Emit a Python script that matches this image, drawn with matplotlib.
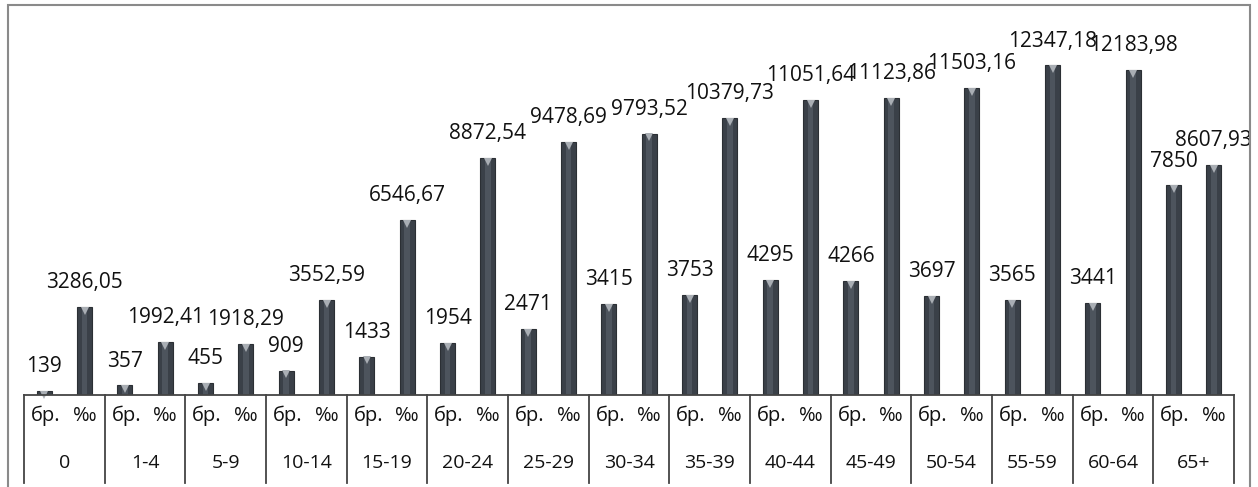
import matplotlib
matplotlib.use('Agg')
from matplotlib import pyplot as plt
from matplotlib.patches import Rectangle

# age groups, absolute counts (бр.) and rates (‰)
ages = ['0', '1-4', '5-9', '10-14', '15-19', '20-24', '25-29', '30-34',
        '35-39', '40-44', '45-49', '50-54', '55-59', '60-64', '65+']
counts = [139, 357, 455, 909, 1433, 1954, 2471, 3415, 3753, 4295, 4266,
          3697, 3565, 3441, 7850]
rates = [3286.05, 1992.41, 1918.29, 3552.59, 6546.67, 8872.54, 9478.69,
         9793.52, 10379.73, 11051.64, 11123.86, 11503.16, 12347.18,
         12183.98, 8607.93]

plt.rcParams['font.family'] = ['Open Sans', 'DejaVu Sans']

fig = plt.figure(figsize=(12.58, 4.87), dpi=100)
fig.add_artist(Rectangle((8 / 1258, -0.05), 1242 / 1258, 1.04, transform=fig.transFigure,
                         fill=False, edgecolor='#8a8a8a', linewidth=1.5))

ax = fig.add_axes([24 / 1258, 92 / 487, 1210 / 1258, 375 / 487])
ax.set_xlim(-0.5, len(ages) - 0.5)
ax.set_ylim(0, 14050)
ax.axis('off')

bar_w = 0.19
off = 0.25
face = '#3a4048'
txt = '#111111'


def fmt(v):
    if isinstance(v, int):
        return str(v)
    return f'{v:.2f}'.replace('.', ',')


for i in range(len(ages)):
    for x, v in ((i - off, counts[i]), (i + off, rates[i])):
        ax.bar(x, v, width=bar_w, color=face, edgecolor='#2b2f34', linewidth=0.8)
        # narrow lighter strip down the middle for a rounded look
        ax.bar(x, v, width=bar_w * 0.35, color='#4d545d', linewidth=0)
        # light bevel on top of each column
        ax.plot(x, v - 140, marker='v', markersize=6, color='#a9aeb4',
                markeredgewidth=0, clip_on=False)
        ax.annotate(fmt(v), (x, v), xytext=(0, 10), textcoords='offset points',
                    ha='center', va='bottom', fontsize=15, color=txt)

# category table under the bars
tr = ax.get_xaxis_transform()
ax.plot([-0.5, len(ages) - 0.5], [0, 0], transform=tr, color='#444444',
        linewidth=1.3, clip_on=False)
for k in range(len(ages) + 1):
    ax.plot([k - 0.5, k - 0.5], [0, -0.235], transform=tr, color='#444444',
            linewidth=1.3, clip_on=False)
for i, a in enumerate(ages):
    ax.text(i - off + 0.02, -0.056, 'бр.', transform=tr, ha='center', va='center',
            fontsize=14.5, color=txt)
    ax.text(i + off, -0.056, '‰', transform=tr, ha='center', va='center',
            fontsize=14.5, color=txt)
    ax.text(i, -0.18, a, transform=tr, ha='center', va='center',
            fontsize=14, color=txt)

fig.savefig('out.png', dpi=100)
